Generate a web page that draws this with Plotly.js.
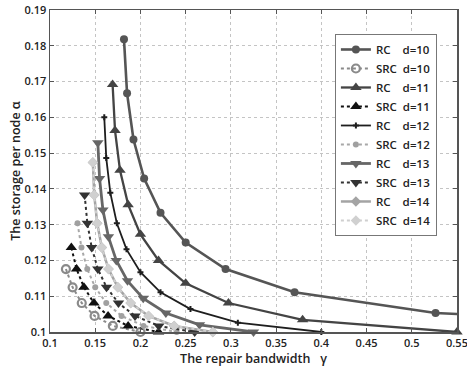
<!DOCTYPE html>
<html>
<head>
<meta charset="utf-8">
<script src="https://cdn.plot.ly/plotly-3.0.1.min.js"></script>
<style>
html,body{margin:0;padding:0;background:#fff;}
#chart{width:467px;height:369px;}
</style>
</head>
<body>
<div id="chart"></div>
<script>
// ---- data ----
const rc10_x = [0.1818, 0.1852, 0.1923, 0.2041, 0.2222, 0.2500, 0.2941, 0.3704, 0.5263, 1.0000];
const rc10_y = [0.1818, 0.1667, 0.1538, 0.1429, 0.1333, 0.1250, 0.1176, 0.1111, 0.1053, 0.1000];
const src10_x = [0.1176, 0.1250, 0.1351, 0.1493, 0.1695, 0.2000];
const src10_y = [0.1176, 0.1125, 0.1081, 0.1045, 0.1017, 0.1000];

const rc11_x = [0.1692, 0.1719, 0.1774, 0.1864, 0.2000, 0.2200, 0.2500, 0.2973, 0.3793, 0.5500];
const rc11_y = [0.1692, 0.1563, 0.1452, 0.1356, 0.1273, 0.1200, 0.1136, 0.1081, 0.1034, 0.1000];
const src11_x = [0.1236, 0.1294, 0.1375, 0.1486, 0.1642, 0.1864, 0.2200];
const src11_y = [0.1236, 0.1176, 0.1125, 0.1081, 0.1045, 0.1017, 0.1000];

const rc12_x = [0.1600, 0.1622, 0.1667, 0.1739, 0.1846, 0.2000, 0.2222, 0.2553, 0.3077, 0.4000];
const rc12_y = [0.1600, 0.1486, 0.1389, 0.1304, 0.1231, 0.1167, 0.1111, 0.1064, 0.1026, 0.1000];
const src12_x = [0.1304, 0.1348, 0.1412, 0.1500, 0.1622, 0.1791, 0.2034, 0.2400];
const src12_y = [0.1304, 0.1236, 0.1176, 0.1125, 0.1081, 0.1045, 0.1017, 0.1000];

const rc13_x = [0.1529, 0.1548, 0.1585, 0.1646, 0.1733, 0.1857, 0.2031, 0.2281, 0.2653, 0.3250];
const rc13_y = [0.1529, 0.1429, 0.1341, 0.1266, 0.1200, 0.1143, 0.1094, 0.1053, 0.1020, 0.1000];
const src13_x = [0.1383, 0.1413, 0.1461, 0.1529, 0.1625, 0.1757, 0.1940, 0.2203, 0.2600];
const src13_y = [0.1383, 0.1304, 0.1236, 0.1176, 0.1125, 0.1081, 0.1045, 0.1017, 0.1000];

const rc14_x = [0.1474, 0.1489, 0.1522, 0.1573, 0.1647, 0.1750, 0.1892, 0.2090, 0.2373, 0.2800];
const rc14_y = [0.1474, 0.1383, 0.1304, 0.1236, 0.1176, 0.1125, 0.1081, 0.1045, 0.1017, 0.1000];
const src14_x = [0.1474, 0.1489, 0.1522, 0.1573, 0.1647, 0.1750, 0.1892, 0.2090, 0.2373, 0.2800];
const src14_y = [0.1474, 0.1383, 0.1304, 0.1236, 0.1176, 0.1125, 0.1081, 0.1045, 0.1017, 0.1000];

const xTicks = [0.1, 0.15, 0.2, 0.25, 0.3, 0.35, 0.4, 0.45, 0.5, 0.55];
const xTickText = ["0.1", "0.15", "0.2", "0.25", "0.3", "0.35", "0.4", "0.45", "0.5", "0.55"];
const yTicks = [0.1, 0.11, 0.12, 0.13, 0.14, 0.15, 0.16, 0.17, 0.18, 0.19];
const yTickText = ["0.1", "0.11", "0.12", "0.13", "0.14", "0.15", "0.16", "0.17", "0.18", "0.19"];

const names = ["RC\u00a0\u00a0\u00a0\u00a0d=10", "SRC\u00a0\u00a0d=10", "RC\u00a0\u00a0\u00a0\u00a0d=11", "SRC\u00a0\u00a0d=11",
               "RC\u00a0\u00a0\u00a0\u00a0d=12", "SRC\u00a0\u00a0d=12", "RC\u00a0\u00a0\u00a0\u00a0d=13", "SRC\u00a0\u00a0d=13",
               "RC\u00a0\u00a0\u00a0\u00a0d=14", "SRC\u00a0\u00a0d=14"];

function tr(x, y, name, lc, lw, dash, sym, ms, mc, mlc, mlw) {
  return {
    x: x, y: y, name: name, type: 'scatter', mode: 'lines+markers', cliponaxis: false,
    line: {color: lc, width: lw, dash: dash},
    marker: {symbol: sym, size: ms, color: mc, line: {color: mlc, width: mlw}}
  };
}

const data = [
  tr(rc10_x, rc10_y, names[0], '#555555', 2.6, 'solid', 'circle', 8, '#555555', '#555555', 0),
  tr(src10_x, src10_y, names[1], '#8a8a8a', 2, 'dot', 'circle-open', 8, '#8a8a8a', '#8a8a8a', 2.2),
  tr(rc11_x, rc11_y, names[2], '#444444', 2.3, 'solid', 'triangle-up', 10, '#444444', '#444444', 0),
  tr(src11_x, src11_y, names[3], '#111111', 2, 'dot', 'triangle-up', 10, '#111111', '#111111', 0),
  tr(rc12_x, rc12_y, names[4], '#1e1e1e', 1.8, 'solid', 'cross', 5, '#1e1e1e', '#1e1e1e', 0),
  tr(src12_x, src12_y, names[5], '#a8a8a8', 2, 'dot', 'circle', 6, '#a0a0a0', '#a0a0a0', 0),
  tr(rc13_x, rc13_y, names[6], '#666666', 2.8, 'solid', 'triangle-down', 10, '#666666', '#666666', 0),
  tr(src13_x, src13_y, names[7], '#333333', 2, 'dot', 'triangle-down', 10, '#333333', '#333333', 0),
  tr(rc14_x, rc14_y, names[8], '#a4a4a4', 2.5, 'solid', 'diamond', 8, '#a4a4a4', '#a4a4a4', 0),
  tr(src14_x, src14_y, names[9], '#cfcfcf', 2, 'dot', 'diamond', 8, '#d0d0d0', '#d0d0d0', 0)
];

const fontFam = '"Open Sans", "DejaVu Sans", sans-serif';
const axisCommon = {
  showline: true, linecolor: '#555', linewidth: 1.5, mirror: 'ticks',
  ticks: 'inside', ticklen: 4, tickcolor: '#555', tickwidth: 1,
  showgrid: true, gridcolor: '#c4c4c4', griddash: 'dot', gridwidth: 1,
  zeroline: false, tickmode: 'array', ticklabeloverflow: 'allow',
  tickfont: {family: fontFam, size: 11, color: '#222', weight: 600}
};

const layout = {
  width: 467, height: 369,
  margin: {l: 50, r: 10, t: 10, b: 37, pad: 0},
  paper_bgcolor: '#fff', plot_bgcolor: '#fff',
  showlegend: true,
  legend: {
    x: 0.70, xanchor: 'left', y: 0.9255, yanchor: 'top',
    bgcolor: '#fff', bordercolor: '#777', borderwidth: 1,
    font: {family: fontFam, size: 11.5, color: '#222', weight: 600},
    tracegroupgap: 0, itemwidth: 30
  },
  xaxis: Object.assign({}, axisCommon, {
    range: [0.1, 0.55], tickvals: xTicks, ticktext: xTickText,
    title: {text: 'The repair bandwidth\u00a0\u00a0\u00a0γ', standoff: 2,
            font: {family: fontFam, size: 12.5, color: '#222', weight: 600}}
  }),
  yaxis: Object.assign({}, axisCommon, {
    range: [0.1, 0.19], tickvals: yTicks, ticktext: yTickText,
    title: {text: 'The storage per node α', standoff: 0,
            font: {family: fontFam, size: 12.5, color: '#222', weight: 600}}
  })
};

Plotly.newPlot('chart', data, layout, {displayModeBar: false, staticPlot: true});
</script>
</body>
</html>
